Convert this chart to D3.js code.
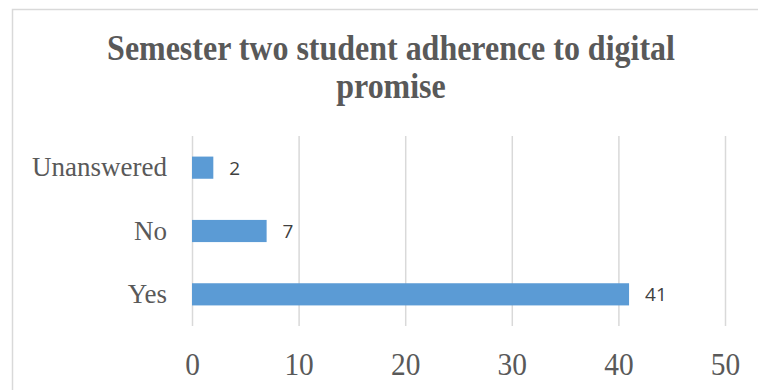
<!DOCTYPE html>
<html>
<head>
<meta charset="utf-8">
<script src="https://cdn.jsdelivr.net/npm/d3@7"></script>
<style>
  body { margin: 0; background: #fff; }
  .serif { font-family: "Liberation Serif", "Times New Roman", serif; fill: #595959; }
</style>
</head>
<body>
<div id="chart"></div>
<script>
var categories = ["Yes", "No", "Unanswered"],
    values = [41, 7, 2],
    xTicks = [0, 10, 20, 30, 40, 50],
    titleLines = ["Semester two student adherence to digital", "promise"];

var width = 758, height = 390,
    plot = { left: 192, right: 725, top: 136, bottom: 326 };

var svg = d3.select("#chart").append("svg")
    .attr("width", width)
    .attr("height", height);

// chart area border (runs off the right/bottom edge)
svg.append("rect")
    .attr("x", 12.5).attr("y", 9.5)
    .attr("width", 800).attr("height", 420)
    .style("fill", "#fff")
    .style("stroke", "#d9d9d9")
    .style("stroke-width", 1.5);

var x = d3.scaleLinear().domain([0, 50]).range([plot.left, plot.right]);
var y = d3.scaleBand()
    .domain(categories.slice().reverse())
    .range([plot.top, plot.bottom])
    .paddingInner(0.65)
    .paddingOuter(0.325);

// gridlines + tick labels
var xAxis = svg.append("g")
    .attr("transform", "translate(0," + plot.bottom + ")")
    .call(d3.axisBottom(x).tickValues(xTicks).tickSize(-(plot.bottom - plot.top)).tickPadding(0));
xAxis.select(".domain").remove();
xAxis.selectAll(".tick line")
    .style("stroke", "#d9d9d9")
    .style("stroke-width", 1.5);
xAxis.selectAll(".tick text")
    .attr("class", "serif")
    .attr("y", 49)
    .attr("dy", 0)
    .attr("transform", "scale(0.92,1)")
    .style("font-size", "32px")
    .style("fill", "#595959");

// bars
svg.selectAll(".bar")
    .data(categories)
    .enter().append("rect")
      .attr("class", "bar")
      .attr("x", x(0))
      .attr("y", function(d) { return y(d); })
      .attr("width", function(d, i) { return x(values[i]) - x(0); })
      .attr("height", y.bandwidth())
      .style("fill", "#5b9bd5");

// category labels
var yAxis = svg.append("g")
    .attr("transform", "translate(" + plot.left + ",0)")
    .call(d3.axisLeft(y).tickSize(0).tickPadding(25));
yAxis.select(".domain").remove();
yAxis.selectAll(".tick text")
    .attr("class", "serif")
    .attr("dy", "0.32em")
    .style("font-size", "27px")
    .style("fill", "#595959");

// value labels
svg.selectAll(".val")
    .data(categories)
    .enter().append("text")
      .attr("class", "val")
      .attr("x", function(d, i) { return x(values[i]) + 16; })
      .attr("y", function(d) { return y(d) + y.bandwidth() / 2; })
      .attr("dy", "0.36em")
      .style("font-family", "'Open Sans', sans-serif")
      .style("font-size", "19px")
      .style("fill", "#404040")
      .text(function(d, i) { return values[i]; });

// title, squeezed horizontally like the original
var title = svg.append("g").attr("transform", "translate(391,0)");
var tLines = title.selectAll("text")
    .data(titleLines)
    .enter().append("text")
      .attr("class", "serif")
      .attr("y", function(d, i) { return 60 + i * 38; })
      .style("text-anchor", "middle")
      .style("font-size", "36px")
      .style("font-weight", "bold")
      .text(function(d) { return d; });
var w0 = tLines.node().getComputedTextLength();
tLines.attr("transform", "scale(" + (568 / w0) + ",1)");
</script>
</body>
</html>
